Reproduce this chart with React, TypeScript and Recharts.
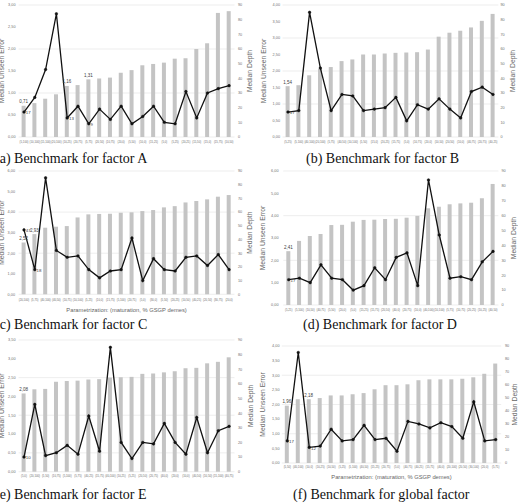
import { ComposedChart, Bar, Line, XAxis, YAxis, CartesianGrid, LabelList } from 'recharts'

// parametrizations: (maturation, % GSGP demes)
const paramsA = ['(5,100)', '(10,100)', '(15,100)', '(20,100)', '(10,25)', '(20,75)', '(5,75)', '(20,50)', '(10,75)', '(20,0)', '(5,50)', '(10,0)', '(15,25)', '(5,0)', '(5,25)', '(20,25)', '(15,50)', '(15,0)', '(15,75)', '(10,50)']
const errorA = [0.71, 0.77, 0.87, 0.97, 1.16, 1.18, 1.31, 1.33, 1.35, 1.46, 1.52, 1.63, 1.66, 1.69, 1.78, 1.79, 2.0, 2.13, 2.82, 2.86]
const depthA = [17, 27, 46, 84, 13, 21, 9, 19, 12, 21, 9, 14, 21, 10, 9, 31, 13, 30, 33, 35]

const paramsB = ['(5,25)', '(5,100)', '(40,100)', '(20,100)', '(5,75)', '(40,50)', '(10,100)', '(5,50)', '(15,0)', '(20,25)', '(15,75)', '(5,0)', '(10,75)', '(20,0)', '(10,50)', '(20,50)', '(10,0)', '(40,75)', '(20,75)', '(40,25)']
const errorB = [1.54, 1.57, 1.87, 2.06, 2.12, 2.3, 2.35, 2.5, 2.5, 2.53, 2.55, 2.56, 2.57, 2.65, 3.04, 3.16, 3.22, 3.32, 3.52, 3.73]
const depthB = [17, 18, 85, 47, 18, 29, 28, 18, 19, 20, 27, 11, 22, 19, 26, 19, 13, 31, 34, 29]

const paramsC = ['(20,100)', '(5,75)', '(40,100)', '(40,50)', '(10,75)', '(10,100)', '(5,25)', '(10,0)', '(15,75)', '(5,100)', '(20,75)', '(5,0)', '(30,0)', '(5,50)', '(20,25)', '(10,50)', '(40,25)', '(20,50)', '(30,75)', '(20,0)']
const errorC = [2.52, 2.93, 3.24, 3.29, 3.32, 3.74, 3.89, 3.91, 3.92, 3.97, 3.99, 4.05, 4.1, 4.23, 4.29, 4.47, 4.54, 4.62, 4.75, 4.83]
const depthC = [47, 18, 85, 32, 27, 28, 18, 12, 17, 18, 41, 10, 26, 18, 17, 27, 28, 21, 29, 18]

const paramsD = ['(5,25)', '(5,100)', '(10,50)', '(40,75)', '(5,50)', '(20,0)', '(5,0)', '(15,25)', '(15,75)', '(20,50)', '(40,0)', '(20,75)', '(10,0)', '(40,100)', '(10,100)', '(5,75)', '(10,75)', '(20,25)', '(10,25)', '(40,50)']
const errorD = [2.41, 2.87, 3.09, 3.18, 3.58, 3.59, 3.73, 3.81, 3.82, 3.85, 3.86, 3.91, 3.99, 4.33, 4.4, 4.51, 4.55, 4.58, 4.78, 5.42]
const depthD = [17, 18, 15, 27, 18, 17, 10, 13, 25, 17, 32, 35, 13, 84, 47, 18, 19, 17, 29, 36]

const paramsE = ['(5,0)', '(20,100)', '(5,50)', '(10,75)', '(5,100)', '(5,75)', '(40,25)', '(15,75)', '(40,100)', '(10,25)', '(5,25)', '(20,50)', '(20,75)', '(40,0)', '(20,0)', '(10,0)', '(40,50)', '(10,50)', '(15,100)', '(40,75)']
const errorE = [2.08, 2.19, 2.2, 2.39, 2.41, 2.42, 2.45, 2.46, 2.5, 2.51, 2.52, 2.6, 2.61, 2.64, 2.67, 2.75, 2.76, 2.88, 2.92, 3.04]
const depthE = [10, 46, 11, 13, 18, 12, 38, 14, 85, 20, 9, 20, 19, 33, 20, 12, 37, 13, 28, 31]

const paramsF = ['(5,50)', '(40,100)', '(10,0)', '(10,25)', '(10,50)', '(5,25)', '(5,100)', '(40,50)', '(15,25)', '(20,75)', '(5,0)', '(40,75)', '(40,25)', '(15,75)', '(40,0)', '(20,100)', '(20,50)', '(30,100)', '(20,0)', '(5,75)']
const errorF = [1.96, 2.18, 2.18, 2.22, 2.31, 2.31, 2.35, 2.39, 2.52, 2.66, 2.66, 2.69, 2.83, 2.86, 2.86, 2.86, 2.88, 2.93, 3.05, 3.4]
const depthF = [17, 85, 12, 13, 26, 17, 18, 29, 18, 19, 9, 32, 30, 27, 31, 28, 19, 47, 17, 18]

const errTicks3 = [0, 0.5, 1, 1.5, 2, 2.5, 3]
const errTicks35 = [0, 0.5, 1, 1.5, 2, 2.5, 3, 3.5]
const errTicks4 = [0, 0.5, 1, 1.5, 2, 2.5, 3, 3.5, 4]
const errTicks6 = [0, 1, 2, 3, 4, 5, 6]
const depthTicks = [0, 10, 20, 30, 40, 50, 60, 70, 80, 90]

const sans = 'Liberation Sans, Arial, sans-serif'
const fmt = (v: number) => v.toFixed(2).replace('.', ',')

type Geo = {
  left: number; top: number; width: number
  pl: number; pr: number; pt: number; pb: number
  lTickEnd: number; rTickStart: number; lTitleX: number; rTitleX: number
  xTickY: number; xTitleY?: number
}

type PanelProps = {
  g: Geo
  cats: string[]
  err: number[]
  depth: number[]
  errTicks: number[]
  errMarks: number[]
  depthMarks: number[]
}

const barNote = (p: any) =>
  p.value ? (
    <text x={p.x + p.width / 2} y={p.y - 2.5} textAnchor="middle" fontSize={4.5} fill="#404040" fontFamily={sans}>
      {p.value}
    </text>
  ) : null

const depthNote = (p: any) =>
  p.value ? (
    <text x={p.x + 1.8} y={p.y + 2.2} fontSize={4.4} fill="#404040" fontFamily={sans}>
      {p.value}
    </text>
  ) : null

function Panel({ g, cats, err, depth, errTicks, errMarks, depthMarks }: PanelProps) {
  const xh = (g.xTitleY ? g.xTitleY + 2.2 : g.xTickY + 3) - g.pb
  const height = g.pb - g.top + xh + 1
  const wl = g.pl - g.left
  const wr = g.left + g.width - g.pr
  const rows = cats.map((c, i) => ({
    cat: c,
    err: err[i],
    depth: depth[i],
    errLab: errMarks.includes(i) ? fmt(err[i]) : '',
    depthLab: depthMarks.includes(i) ? String(depth[i]) : '',
  }))
  return (
    <div style={{ position: 'absolute', left: g.left, top: g.top }}>
      <ComposedChart width={g.width} height={height} data={rows} margin={{ top: g.pt - g.top, right: 0, left: 0, bottom: 1 }}>
        <CartesianGrid yAxisId="l" vertical={false} stroke="#e3e3e3" strokeWidth={0.6} />
        <XAxis
          dataKey="cat"
          interval={0}
          tickLine={false}
          axisLine={false}
          tickSize={0}
          tickMargin={g.xTickY - g.pb - 1}
          height={xh}
          tick={{ fontSize: 2.8, fill: '#6a6a6a', fontFamily: sans }}
          label={
            g.xTitleY
              ? { value: 'Parametrization: (maturation, % GSGP demes)', position: 'insideBottom', offset: 0, fontSize: 5.8, fill: '#666', fontFamily: sans }
              : undefined
          }
        />
        <YAxis
          yAxisId="l"
          orientation="left"
          domain={[0, errTicks[errTicks.length - 1]]}
          ticks={errTicks}
          tickFormatter={fmt}
          width={wl}
          tickLine={false}
          axisLine={false}
          tickSize={0}
          tickMargin={g.pl - g.lTickEnd}
          tick={{ fontSize: 3.8, fill: '#707070', fontFamily: sans }}
          label={{ value: 'Median Unseen Error', angle: -90, position: 'center', dx: g.lTitleX - g.left - wl / 2, fontSize: 6.8, fill: '#666', fontFamily: sans }}
        />
        <YAxis
          yAxisId="r"
          orientation="right"
          domain={[0, 90]}
          ticks={depthTicks}
          width={wr}
          tickLine={false}
          axisLine={false}
          tickSize={0}
          tickMargin={g.rTickStart - g.pr}
          tick={{ fontSize: 3.8, fill: '#707070', fontFamily: sans }}
          label={{ value: 'Median Depth', angle: -90, position: 'center', dx: g.rTitleX - g.pr - wr / 2, fontSize: 6.8, fill: '#666', fontFamily: sans }}
        />
        <Bar yAxisId="l" dataKey="err" fill="#c4c4c4" barSize={4} isAnimationActive={false}>
          <LabelList dataKey="errLab" content={barNote} />
        </Bar>
        <Line
          yAxisId="r"
          dataKey="depth"
          stroke="#111"
          strokeWidth={1.3}
          dot={{ r: 1.3, fill: '#111', stroke: '#111', strokeWidth: 0.5 }}
          isAnimationActive={false}
        >
          <LabelList dataKey="depthLab" content={depthNote} />
        </Line>
      </ComposedChart>
    </div>
  )
}

function Caption({ x, y, text }: { x: number; y: number; text: string }) {
  return (
    <div
      style={{
        position: 'absolute',
        left: x,
        top: y - 8,
        height: 16,
        lineHeight: '16px',
        whiteSpace: 'nowrap',
        fontFamily: 'Liberation Serif, serif',
        fontSize: 14,
        color: '#111',
      }}
    >
      {text}
    </div>
  )
}

const geoA: Geo = { left: 0, top: 0, width: 258, pl: 18.6, pr: 234.5, pt: 5, pb: 137, lTickEnd: 15.5, rTickStart: 238, lTitleX: 1.5, rTitleX: 250, xTickY: 141.7 }
const geoB: Geo = { left: 258, top: 0, width: 260, pl: 282.6, pr: 498.4, pt: 5, pb: 137, lTickEnd: 280, rTickStart: 500.5, lTitleX: 264, rTitleX: 513, xTickY: 141.7 }
const geoC: Geo = { left: 0, top: 165, width: 258, pl: 18.6, pr: 234.5, pt: 171, pb: 294.3, lTickEnd: 15, rTickStart: 238, lTitleX: 1.5, rTitleX: 250, xTickY: 300, xTitleY: 310 }
const geoD: Geo = { left: 258, top: 165, width: 260, pl: 283.3, pr: 498.4, pt: 171, pb: 305, lTickEnd: 278.5, rTickStart: 501.5, lTitleX: 263, rTitleX: 514, xTickY: 310 }
const geoE: Geo = { left: 0, top: 335, width: 258, pl: 18.6, pr: 234.5, pt: 340, pb: 471.7, lTickEnd: 15.5, rTickStart: 238, lTitleX: 1.5, rTitleX: 251, xTickY: 476.5 }
const geoF: Geo = { left: 258, top: 335, width: 260, pl: 281.8, pr: 501.2, pt: 346, pb: 463, lTickEnd: 279.5, rTickStart: 505, lTitleX: 263, rTitleX: 515, xTickY: 467, xTitleY: 477 }

export default function App() {
  return (
    <div style={{ position: 'absolute', left: 0, top: 0, width: 518, height: 504, overflow: 'hidden', background: '#fff' }}>
      <Panel g={geoA} cats={paramsA} err={errorA} depth={depthA} errTicks={errTicks3} errMarks={[0, 4, 6]} depthMarks={[0, 4, 6]} />
      <Panel g={geoB} cats={paramsB} err={errorB} depth={depthB} errTicks={errTicks4} errMarks={[0]} depthMarks={[0]} />
      <Panel g={geoC} cats={paramsC} err={errorC} depth={depthC} errTicks={errTicks6} errMarks={[0, 1]} depthMarks={[0, 1]} />
      <Panel g={geoD} cats={paramsD} err={errorD} depth={depthD} errTicks={errTicks6} errMarks={[0]} depthMarks={[0]} />
      <Panel g={geoE} cats={paramsE} err={errorE} depth={depthE} errTicks={errTicks35} errMarks={[0]} depthMarks={[0]} />
      <Panel g={geoF} cats={paramsF} err={errorF} depth={depthF} errTicks={errTicks4} errMarks={[0, 2]} depthMarks={[0, 2]} />
      <Caption x={-5} y={159} text="(a) Benchmark for factor A" />
      <Caption x={306} y={159} text="(b) Benchmark for factor B" />
      <Caption x={-5} y={325} text="(c) Benchmark for factor C" />
      <Caption x={303} y={325} text="(d) Benchmark for factor D" />
      <Caption x={-5} y={495} text="(e) Benchmark for factor E" />
      <Caption x={293} y={495} text="(f) Benchmark for global factor" />
    </div>
  )
}
